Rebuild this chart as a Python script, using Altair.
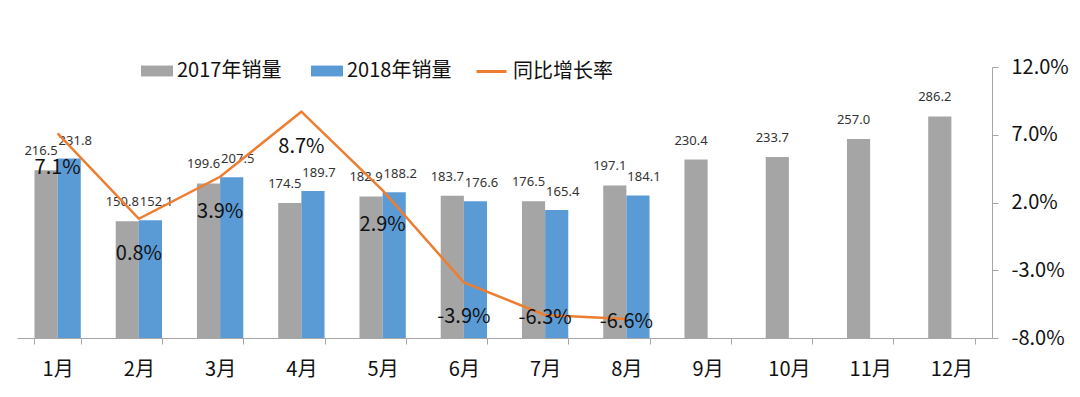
import altair as alt
import pandas as pd

months = ["1月", "2月", "3月", "4月", "5月", "6月", "7月", "8月", "9月", "10月", "11月", "12月"]
series = ["2017年销量", "2018年销量"]
sales_2017 = [216.5, 150.8, 199.6, 174.5, 182.9, 183.7, 176.5, 197.1, 230.4, 233.7, 257.0, 286.2]
sales_2018 = [231.8, 152.1, 207.5, 189.7, 188.2, 176.6, 165.4, 184.1]
rate_name = "同比增长率"
growth = [0.071, 0.008, 0.039, 0.087, 0.029, -0.039, -0.063, -0.066]
rate_ticks = [-0.08, -0.03, 0.02, 0.07, 0.12]

GREY = "#A5A5A5"
BLUE = "#5B9BD5"
ORANGE = "#ED7D31"
AXIS = "#A6A6A6"
TXT = "#111111"
FONT = "Noto Sans CJK SC"

rows = []
for m, v in zip(months, sales_2017):
    rows.append({"month": m, "series": series[0], "value": v})
for m, v in zip(months, sales_2018):
    rows.append({"month": m, "series": series[1], "value": v})
bar_df = pd.DataFrame(rows)
rate_df = pd.DataFrame({"month": months[:len(growth)], "rate": growth, "name": rate_name})

x = alt.X(
    "month:N", sort=months,
    scale=alt.Scale(domain=months, paddingInner=0.43, paddingOuter=0.215),
    axis=alt.Axis(title=None, labelAngle=0, labelFontSize=20, labelColor=TXT,
                  labelFont=FONT, labelPadding=15, tickBand="extent", tickSize=6,
                  tickColor=AXIS, domainColor=AXIS, grid=False),
)
xoff = alt.XOffset("series:N", scale=alt.Scale(domain=series, paddingInner=0, paddingOuter=0))
ybar = alt.Y("value:Q", scale=alt.Scale(domain=[0, 350], nice=False, zero=True), axis=None)
yrate_axis = alt.Y(
    "rate:Q", scale=alt.Scale(domain=[-0.08, 0.12], nice=False, zero=False),
    axis=alt.Axis(orient="right", values=rate_ticks, format=".1%", title=None, grid=False,
                  labelExpr="replace(datum.label, '\u2212', '-')",
                  labelFontSize=20, labelFont=FONT, labelColor=TXT, labelPadding=13,
                  tickSize=6, tickColor=AXIS, domainColor=AXIS),
)
yrate = alt.Y("rate:Q", scale=alt.Scale(domain=[-0.08, 0.12], nice=False, zero=False), axis=None)

bars = alt.Chart(bar_df).mark_bar().encode(
    x=x, xOffset=xoff, y=ybar,
    color=alt.Color(
        "series:N", scale=alt.Scale(domain=series, range=[GREY, BLUE]),
        legend=alt.Legend(title=None, orient="none", legendX=124, legendY=-12,
                          direction="horizontal", symbolType="M-1,-0.34H1V0.34H-1Z",
                          symbolSize=1024, symbolStrokeWidth=0, labelFontSize=20,
                          labelFont=FONT, labelColor=TXT, columnPadding=29,
                          labelOffset=4),
    ),
)

lab17 = alt.Chart(bar_df).transform_filter(alt.datum.series == series[0]).mark_text(
    baseline="alphabetic", dy=-15, dx=-5, fontSize=13, font="Noto Sans", color="#333333"
).encode(x=x, xOffset=xoff, y=ybar, text=alt.Text("value:Q", format=".1f"))

lab18 = alt.Chart(bar_df).transform_filter(alt.datum.series == series[1]).mark_text(
    baseline="alphabetic", dy=-14, dx=6, fontSize=13, font="Noto Sans", color="#333333"
).encode(x=x, xOffset=xoff, y=ybar, text=alt.Text("value:Q", format=".1f"))

line = alt.Chart(rate_df).mark_line(strokeWidth=2.5).encode(
    x=x, y=yrate_axis,
    stroke=alt.Stroke(
        "name:N", scale=alt.Scale(domain=[rate_name], range=[ORANGE]),
        legend=alt.Legend(title=None, orient="none", legendX=458, legendY=-12,
                          direction="horizontal", symbolType="stroke", symbolSize=900,
                          symbolStrokeWidth=3, labelFontSize=20, labelFont=FONT,
                          labelColor=TXT, labelOffset=5),
    ),
)

rate_text = "(datum.rate < 0 ? '-' : '') + format(abs(datum.rate), '.1%')"

rlab_hi = alt.Chart(rate_df).transform_filter(alt.datum.rate > -0.05).transform_calculate(
    label=rate_text
).mark_text(
    baseline="middle", dy=35, fontSize=20, font=FONT, color=TXT
).encode(x=x, y=yrate, text="label:N")

rlab_lo = alt.Chart(rate_df).transform_filter(alt.datum.rate <= -0.05).transform_calculate(
    label=rate_text
).mark_text(
    baseline="middle", dy=3, fontSize=20, font=FONT, color=TXT
).encode(x=x, y=yrate, text="label:N")

chart = alt.layer(bars, lab17, lab18, line, rlab_hi, rlab_lo).resolve_scale(
    y="independent"
).properties(
    width=975, height=271,
    background="white",
    autosize=alt.AutoSizeParams(type="none"),
    padding={"left": 9, "top": 59, "right": 80, "bottom": 51},
).configure_view(stroke=None)

chart.save("out.html", embed_options={"renderer": "svg", "actions": False})
